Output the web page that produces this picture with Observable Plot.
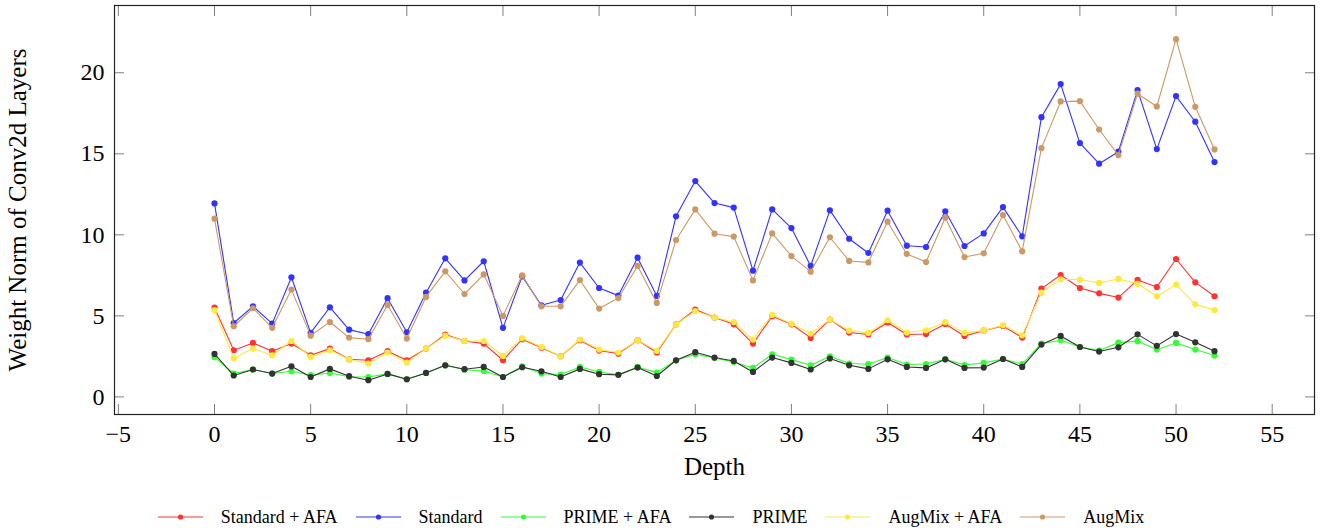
<!DOCTYPE html>
<html>
<head>
<meta charset="utf-8">
<script src="https://cdn.jsdelivr.net/npm/d3@7"></script>
<script src="https://cdn.jsdelivr.net/npm/@observablehq/plot@0.6"></script>
<style>
  body { margin: 0; background: #fff; font-family: "Liberation Serif", serif; }
  #legend { display: flex; justify-content: center; align-items: center; height: 30px; margin-top: 12px; font-size: 18px; color: #000; }
  .item { display: inline-flex; align-items: center; margin-right: 18px; }
  .item span { margin-left: 18px; }
</style>
</head>
<body>
<div id="chart"></div>
<div id="legend"></div>
<script>
const depth = [0,1,2,3,4,5,6,7,8,9,10,11,12,13,14,15,16,17,18,19,20,21,22,23,24,25,26,27,28,29,30,31,32,33,34,35,36,37,38,39,40,41,42,43,44,45,46,47,48,49,50,51,52];

const standardAFA = [5.51,2.88,3.33,2.82,3.29,2.57,2.98,2.32,2.26,2.82,2.26,2.98,3.85,3.45,3.29,2.26,3.56,3.04,2.51,3.50,2.86,2.67,3.50,2.74,4.48,5.39,4.90,4.48,3.29,4.98,4.48,3.64,4.77,3.97,3.85,4.59,3.85,3.88,4.50,3.76,4.09,4.38,3.66,6.68,7.52,6.72,6.39,6.13,7.22,6.78,8.51,7.07,6.21];
const standard = [11.94,4.56,5.59,4.52,7.38,3.95,5.53,4.15,3.87,6.09,3.99,6.43,8.55,7.19,8.37,4.26,7.44,5.65,5.98,8.29,6.72,6.25,8.59,6.23,11.14,13.32,11.96,11.68,7.79,11.57,10.42,8.08,11.51,9.76,8.88,11.49,9.33,9.25,11.45,9.31,10.09,11.71,9.91,17.26,19.30,15.66,14.39,15.13,18.93,15.29,18.56,16.98,14.49];
const primeAFA = [2.45,1.44,1.69,1.44,1.58,1.34,1.48,1.24,1.23,1.42,1.09,1.48,1.95,1.68,1.60,1.23,1.89,1.44,1.38,1.85,1.54,1.36,1.85,1.50,2.26,2.63,2.40,2.16,1.79,2.63,2.30,1.95,2.51,2.06,2.02,2.43,2.00,2.03,2.32,1.97,2.10,2.34,2.02,3.29,3.50,3.08,2.86,3.35,3.44,2.92,3.33,2.92,2.55];
const prime = [2.65,1.32,1.69,1.44,1.89,1.23,1.73,1.28,1.03,1.42,1.09,1.48,1.95,1.71,1.85,1.23,1.83,1.58,1.23,1.73,1.40,1.36,1.81,1.29,2.26,2.76,2.43,2.22,1.54,2.43,2.10,1.69,2.37,1.95,1.73,2.32,1.85,1.79,2.32,1.79,1.81,2.34,1.85,3.23,3.76,3.08,2.80,3.06,3.86,3.15,3.88,3.37,2.82];
const augmixAFA = [5.35,2.39,2.98,2.57,3.45,2.47,2.88,2.32,2.06,2.74,2.12,2.98,3.78,3.45,3.45,2.53,3.62,3.08,2.51,3.54,2.92,2.74,3.50,2.84,4.48,5.30,4.90,4.62,3.54,5.06,4.52,3.91,4.77,4.09,3.95,4.73,3.97,4.11,4.61,3.95,4.09,4.42,3.80,6.44,7.26,7.24,7.03,7.28,6.98,6.21,6.93,5.71,5.35];
const augmix = [11.00,4.36,5.47,4.26,6.62,3.78,4.62,3.66,3.56,5.67,3.60,6.17,7.75,6.35,7.56,5.00,7.50,5.59,5.59,7.21,5.45,6.10,8.08,5.80,9.68,11.57,10.07,9.89,7.19,10.09,8.69,7.73,9.85,8.39,8.30,10.81,8.82,8.32,11.06,8.63,8.86,11.22,8.98,15.35,18.23,18.25,16.50,14.92,18.71,17.92,22.07,17.90,15.27];

const seriesNames = ["Standard + AFA", "Standard", "PRIME + AFA", "PRIME", "AugMix + AFA", "AugMix"];
const seriesValues = [standardAFA, standard, primeAFA, prime, augmixAFA, augmix];
const seriesColors = ["#ff3333", "#3333ff", "#33ff33", "#333333", "#ffe83f", "#cc9966"];

const xTicks = [-5,0,5,10,15,20,25,30,35,40,45,50,55];
const yTicks = [0,5,10,15,20];

const tickColor = "#808080";

const seriesMarks = [];
seriesNames.forEach((name, s) => {
  const rows = depth.map((d, i) => ({depth: d, value: seriesValues[s][i]}));
  seriesMarks.push(Plot.line(rows, {x: "depth", y: "value", stroke: seriesColors[s], strokeWidth: 1.1}));
  seriesMarks.push(Plot.dot(rows, {x: "depth", y: "value", fill: seriesColors[s], r: 3.1}));
});

const chart = Plot.plot({
  width: 1320,
  height: 490,
  marginLeft: 114,
  marginRight: 6,
  marginTop: 5,
  marginBottom: 76,
  x: {domain: [-5.2, 57.2]},
  y: {domain: [-1.085, 24.15]},
  style: {fontFamily: "Liberation Serif, serif", fontSize: "24px", background: "#fff", color: "#000"},
  marks: [
    Plot.axisX({ticks: xTicks, anchor: "bottom", tickSize: -10, tickPadding: 20, stroke: tickColor, fill: "#000", label: null, fontSize: 24}),
    Plot.axisX({ticks: xTicks, anchor: "top", tickSize: -10, tickFormat: () => "", stroke: tickColor, label: null}),
    Plot.axisY({ticks: yTicks, anchor: "left", tickSize: -10, tickPadding: 20, stroke: tickColor, fill: "#000", label: null, fontSize: 24}),
    Plot.axisY({ticks: yTicks, anchor: "right", tickSize: -10, tickFormat: () => "", stroke: tickColor, label: null}),
    ...seriesMarks,
    Plot.frame({stroke: "#222", strokeWidth: 1.2}),
    Plot.text(["Depth"], {frameAnchor: "bottom", dy: 60, fontSize: 25, fill: "#000"}),
    Plot.text(["Weight Norm of Conv2d Layers"], {frameAnchor: "left", dx: -97, rotate: -90, textAnchor: "middle", lineAnchor: "middle", fontSize: 25, fill: "#000"})
  ]
});
document.getElementById("chart").appendChild(chart);

const legend = document.getElementById("legend");
seriesNames.forEach((name, s) => {
  const item = document.createElement("div");
  item.className = "item";
  item.innerHTML = `<svg width="45" height="10"><line x1="0" y1="5" x2="45" y2="5" stroke="${seriesColors[s]}" stroke-width="1.2"/><circle cx="22.5" cy="5" r="2.6" fill="${seriesColors[s]}"/></svg><span>${name}</span>`;
  legend.appendChild(item);
});
</script>
</body>
</html>
